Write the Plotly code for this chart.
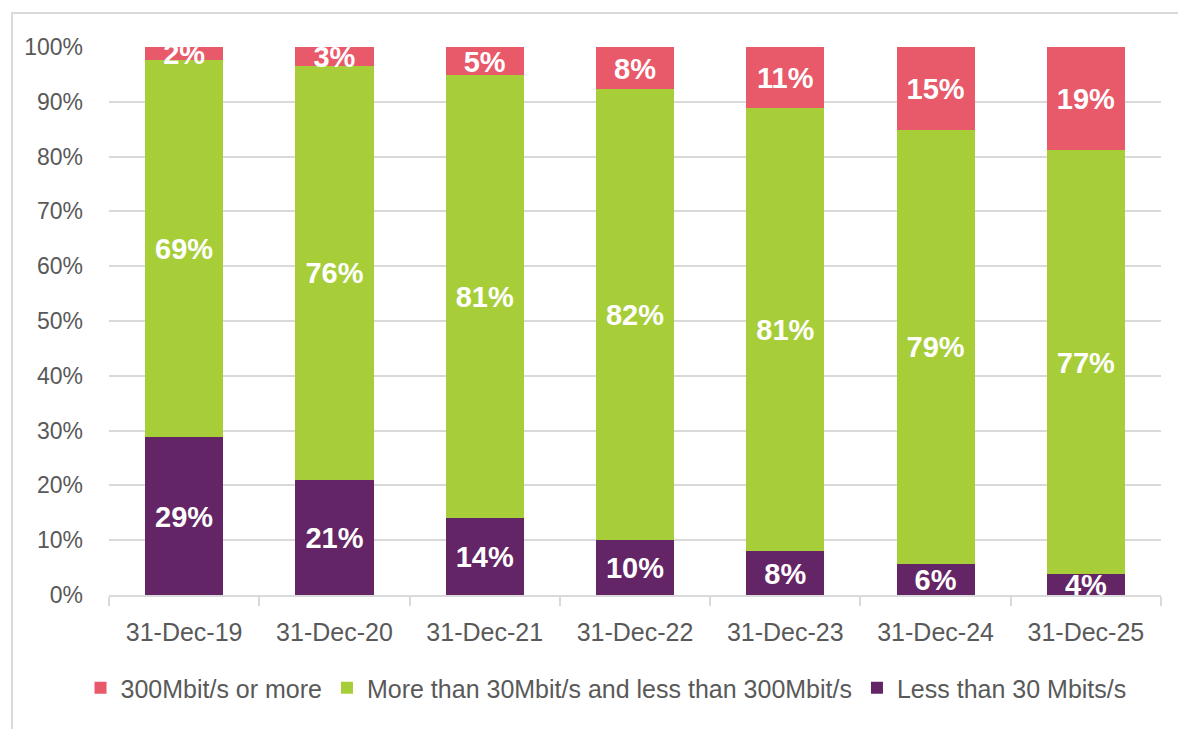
import plotly.graph_objects as go

categories = ["31-Dec-19", "31-Dec-20", "31-Dec-21", "31-Dec-22", "31-Dec-23", "31-Dec-24", "31-Dec-25"]
less_30 = [28.8, 21.0, 14.1, 10.0, 8.0, 5.7, 3.8]
mid_30_300 = [68.9, 75.6, 80.8, 82.3, 80.9, 79.2, 77.4]
over_300 = [2.3, 3.4, 5.1, 7.7, 11.1, 15.1, 18.8]
y_ticks = list(range(0, 101, 10))
y_tick_labels = [f"{v}%" for v in y_ticks]

names = ["Less than 30 Mbits/s", "More than 30Mbit/s and less than 300Mbit/s", "300Mbit/s or more"]
colors = ["#642566", "#A7CE39", "#E8596A"]
series = [less_30, mid_30_300, over_300]

W, H = 1178, 729
ML, MR, MT, MB = 109, 17, 47, 134
PW, PH = W - ML - MR, H - MT - MB

fig = go.Figure()
for name, col, vals in zip(names, colors, series):
    fig.add_trace(go.Bar(x=categories, y=vals, name=name, marker=dict(color=col, line=dict(width=0))))

# data labels at centres of stacked segments
lx, ly, lt = [], [], []
for i, c in enumerate(categories):
    base = 0.0
    for vals in series:
        v = vals[i]
        lx.append(c)
        ly.append(base + v / 2 - 0.6)
        lt.append(f"{v:.0f}%")
        base += v
fig.add_trace(go.Scatter(x=lx, y=ly, text=lt, mode="text", showlegend=False, hoverinfo="skip",
                         textfont=dict(family="Liberation Sans", size=29, color="white", weight="bold"),
                         textposition="middle center", cliponaxis=True))

def px_x(p):
    return (p - ML) / PW
def px_y(p):
    return (H - MB - p) / PH

# outer chart border (partially off-page, like the cropped reference)
fig.add_shape(type="rect", xref="paper", yref="paper",
              x0=px_x(12), x1=px_x(W + 20), y0=px_y(H + 20), y1=px_y(13),
              line=dict(color="#d9d9d9", width=2), fillcolor="rgba(0,0,0,0)", layer="below")

fig.update_layout(
    barmode="stack",
    bargap=0.48,
    width=W, height=H,
    margin=dict(l=ML, r=MR, t=MT, b=MB),
    plot_bgcolor="white", paper_bgcolor="white",
    font=dict(family="Liberation Sans", color="#595959"),
    legend=dict(orientation="h", traceorder="reversed", x=px_x(606), xanchor="center",
                y=px_y(688), yanchor="middle", font=dict(size=25, color="#595959"),
                itemclick=False),
    showlegend=True,
)
fig.update_xaxes(type="category", showgrid=False, showline=True, linecolor="#d9d9d9", linewidth=2,
                 ticks="outside", tickson="boundaries", ticklen=9, tickwidth=2, tickcolor="#d9d9d9",
                 tickfont=dict(size=25, color="#595959"), ticklabelstandoff=14)
fig.update_yaxes(range=[0, 100], tickmode="array", tickvals=y_ticks, ticktext=y_tick_labels,
                 showgrid=True, gridcolor="#d9d9d9", gridwidth=2, zeroline=False, showline=False,
                 tickfont=dict(size=23, color="#595959"), ticklabelstandoff=25)

fig.write_html("out.html", config={"displayModeBar": False},
               post_script="document.body.style.margin='0';document.body.style.overflow='hidden';")
